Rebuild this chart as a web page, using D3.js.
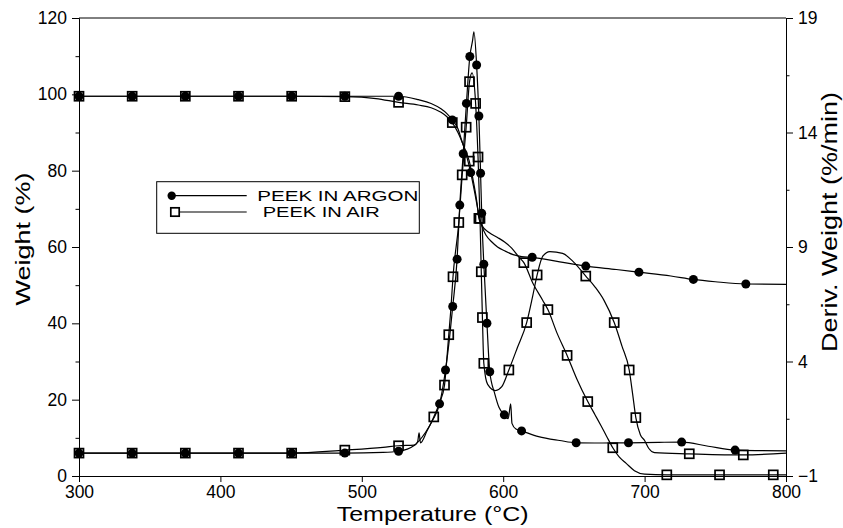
<!DOCTYPE html>
<html>
<head>
<meta charset="utf-8">
<script src="https://cdn.jsdelivr.net/npm/d3@7"></script>
<style>
  body { margin: 0; background: #fff; }
  svg text { font-family: "Liberation Sans", Arial, Helvetica, sans-serif; fill: #000; }
</style>
</head>
<body>
<svg id="chart" width="843" height="528"></svg>
<script>
// Axis ticks
const tempTicks = [300, 400, 500, 600, 700, 800];
const weightTicks = [0, 20, 40, 60, 80, 100, 120];
const weightMinor = [10, 30, 50, 70, 90, 110];
const derivTicks = [-1, 4, 9, 14, 19];
const derivMinor = [1.5, 6.5, 11.5, 16.5];
const seriesNames = ["PEEK IN ARGON", "PEEK IN AIR"];

// TGA weight (%) vs temperature (°C): symbol points and extra trace points
const argonWeightSymbols = [[300,99.5],[337.6,99.5],[375.2,99.5],[412.8,99.5],[450.4,99.5],[488,99.5],[526,99.5],[564,93.3],[577,79.5],[620.5,57.3],[658.4,55],[696,53.4],[734.5,51.5],[771.6,50.3]];
const argonWeightTrace = [[540,98.6],[549,97.6],[556,96.2],[560,95],[568,91],[571,87.5],[574,84],[580,74],[582.5,69],[585,65.4],[588,63],[592,61.3],[596,60],[601,59],[607,58],[613,57.5],[640,56.1],[680,54.1],[718.6,52.4],[750,50.9],[800,50.2]];

const airWeightSymbols = [[300,99.5],[337.6,99.5],[375.2,99.5],[412.8,99.5],[450.4,99.5],[488,99.4],[526,97.9],[564,92.6],[576,82.5],[582.8,67.5],[614.6,55.9],[631.6,43.6],[645.2,31.6],[659.8,19.5],[677.5,7.4],[715.7,0.3],[753,0.3],[791,0.3]];
const airWeightTrace = [[510,98.9],[540,97.2],[549,96.5],[556,95.3],[560,94.2],[568,90],[572,86.5],[579,77],[581.5,71.5],[585,65.6],[590,63.8],[596,62.5],[601,61.3],[606,59.7],[611,57.4],[621,50.5],[628,46],[638,37.5],[652,25.5],[665,16],[669,13.3],[673,10.5],[682,5],[687,3.3],[692.8,1.4],[700,0.5],[800,0.3]];

// DTG derivative weight (%/min) vs temperature (°C)
const argonDerivSymbols = [[300,0],[337.6,0],[375.2,0],[412.8,0],[450.4,0],[488,0],[526,0.08],[555,2.15],[559.2,3.63],[564.3,6.4],[567.4,8.47],[569.3,10.83],[571.7,13.07],[574,15.27],[576.4,17.32],[581.2,16.95],[582.8,14.72],[584,12.22],[584.8,10.47],[586.3,8.25],[588.5,5.67],[590.5,3.55],[600.8,1.67],[613,0.97],[651.6,0.45],[688.6,0.45],[726.2,0.48],[764,0.13]];
const argonDerivTrace = [[515,0.03],[537,0.33],[545,0.9],[550,1.42],[562,5.0],[578.3,18.0],[579.3,18.4],[594,2.6],[597,2.0],[603.5,1.5],[605.3,2.15],[606.2,1.3],[609,1.05],[625,0.72],[640,0.55],[670,0.44],[710,0.47],[745,0.3],[800,0.1]];

const airDerivSymbols = [[300,0],[337.6,0],[375.2,0],[412.8,0],[450.4,0],[488,0.13],[526,0.32],[550.9,1.58],[558.5,2.97],[561.5,5.17],[564.5,7.7],[568.6,10.07],[571,12.15],[573.8,14.23],[576.2,16.22],[580.5,15.27],[582.2,12.93],[583.6,10.25],[584.5,7.92],[585.3,5.92],[586.3,3.92],[604,3.63],[616.6,5.7],[624,7.78],[658.4,7.73],[678.5,5.7],[689.1,3.63],[693.8,1.55],[731.6,-0.03],[769.8,-0.08]];
const airDerivTrace = [[515,0.25],[537,0.35],[539.5,0.5],[540.5,0.88],[541.5,0.45],[546,0.95],[555,2.2],[560,4.0],[563,6.3],[578,16.6],[589,3.0],[594.6,2.73],[599,2.9],[610,4.6],[621,6.9],[628,8.6],[633,8.8],[642,8.72],[650,8.33],[665,7.25],[671.3,6.67],[684,4.67],[691.5,2.6],[697,0.8],[700,0.55],[703,0.2],[707,0.02],[800,0.0]];

const svg = d3.select("#chart");

const x = d3.scaleLinear().domain([300, 800]).range([79, 786]);
const yW = d3.scaleLinear().domain([0, 120]).range([476, 18]);
const yD = d3.scaleLinear().domain([-1, 19]).range([476, 18]);

const FONT = '"Liberation Sans", Arial, Helvetica, sans-serif';

function styleAxis(g, size) {
  g.attr("font-family", FONT).attr("font-size", size);
  g.selectAll("path.domain").attr("stroke", "#000").attr("stroke-width", 1);
  g.selectAll(".tick line").attr("stroke", "#000").attr("stroke-width", 1);
  g.selectAll(".tick text").attr("fill", "#000");
}

// Top frame line
svg.append("line")
  .attr("x1", x(300)).attr("x2", x(800))
  .attr("y1", yW(120)).attr("y2", yW(120))
  .attr("stroke", "#000").attr("stroke-width", 1);

// Bottom axis
svg.append("g").attr("transform", `translate(0,${yW(0)})`)
  .call(d3.axisBottom(x).tickValues(tempTicks).tickSize(6).tickPadding(4).tickSizeOuter(0))
  .call(g => styleAxis(g, 17.5));

// Left axis (weight)
svg.append("g").attr("transform", `translate(${x(300)},0)`)
  .call(d3.axisLeft(yW).tickValues(weightMinor).tickSize(3.5).tickFormat("").tickSizeOuter(0))
  .call(g => styleAxis(g, 17.5));
svg.append("g").attr("transform", `translate(${x(300)},0)`)
  .call(d3.axisLeft(yW).tickValues(weightTicks).tickSize(7).tickPadding(5).tickSizeOuter(0))
  .call(g => styleAxis(g, 17.5));

// Right axis (derivative)
svg.append("g").attr("transform", `translate(${x(800)},0)`)
  .call(d3.axisRight(yD).tickValues(derivMinor).tickSize(3.5).tickFormat("").tickSizeOuter(0))
  .call(g => styleAxis(g, 17.5));
svg.append("g").attr("transform", `translate(${x(800)},0)`)
  .call(d3.axisRight(yD).tickValues(derivTicks).tickSize(7).tickPadding(5).tickSizeOuter(0))
  .call(g => styleAxis(g, 17.5));

// Axis titles
svg.append("text")
  .attr("x", 336.7).attr("y", 521)
  .attr("font-size", 21)
  .attr("textLength", 192).attr("lengthAdjust", "spacingAndGlyphs")
  .text("Temperature (°C)");

svg.append("text")
  .attr("transform", "translate(30,239) rotate(-90)")
  .attr("text-anchor", "middle")
  .attr("font-size", 21)
  .attr("textLength", 133).attr("lengthAdjust", "spacingAndGlyphs")
  .text("Weight (%)");

svg.append("text")
  .attr("transform", "translate(837,222) rotate(-90)")
  .attr("text-anchor", "middle")
  .attr("font-size", 22)
  .attr("textLength", 260).attr("lengthAdjust", "spacingAndGlyphs")
  .text("Deriv. Weight (%/min)");

// Curves: each trace runs through its symbol points plus the extra trace points
const lineW = d3.line().x(d => x(d[0])).y(d => yW(d[1])).curve(d3.curveMonotoneX);
const lineD = d3.line().x(d => x(d[0])).y(d => yD(d[1])).curve(d3.curveMonotoneX);

const curves = [
  { symbols: airWeightSymbols, trace: airWeightTrace, gen: lineW, y: yW, marker: "square" },
  { symbols: airDerivSymbols, trace: airDerivTrace, gen: lineD, y: yD, marker: "square" },
  { symbols: argonWeightSymbols, trace: argonWeightTrace, gen: lineW, y: yW, marker: "circle" },
  { symbols: argonDerivSymbols, trace: argonDerivTrace, gen: lineD, y: yD, marker: "circle" }
];

const gLines = svg.append("g");
const gCircles = svg.append("g");
const gSquares = svg.append("g");
const SQ = 9;   // open square side

curves.forEach(c => {
  const pts = d3.sort(c.symbols.concat(c.trace), d => d[0]);
  gLines.append("path")
    .attr("d", c.gen(pts))
    .attr("fill", "none")
    .attr("stroke", "#000")
    .attr("stroke-width", 1.2);
  if (c.marker === "circle") {
    gCircles.selectAll(null).data(c.symbols).enter().append("circle")
      .attr("cx", d => x(d[0])).attr("cy", d => c.y(d[1])).attr("r", 4.5)
      .attr("fill", "#000");
  } else {
    gSquares.selectAll(null).data(c.symbols).enter().append("rect")
      .attr("x", d => x(d[0]) - SQ / 2).attr("y", d => c.y(d[1]) - SQ / 2)
      .attr("width", SQ).attr("height", SQ)
      .attr("fill", "none").attr("stroke", "#000").attr("stroke-width", 1.7);
  }
});

// Legend
const lg = svg.append("g");
lg.append("rect")
  .attr("x", 156.7).attr("y", 181.7).attr("width", 262.6).attr("height", 51.6)
  .attr("fill", "#fff").attr("stroke", "#000").attr("stroke-width", 1);

const legendRows = [
  { name: seriesNames[0], marker: "circle", y: 195.7, tx: 257.3, len: 161 },
  { name: seriesNames[1], marker: "square", y: 212, tx: 262.7, len: 117 }
];
legendRows.forEach(r => {
  lg.append("line")
    .attr("x1", 172).attr("x2", 246.7).attr("y1", r.y).attr("y2", r.y)
    .attr("stroke", "#000").attr("stroke-width", 1.2);
  if (r.marker === "circle") {
    lg.append("circle").attr("cx", 171.7).attr("cy", r.y).attr("r", 4.2).attr("fill", "#000");
  } else {
    lg.append("rect").attr("x", 175 - 4.2).attr("y", r.y - 4.2).attr("width", 8.4).attr("height", 8.4)
      .attr("fill", "#fff").attr("stroke", "#000").attr("stroke-width", 1.7);
  }
  lg.append("text")
    .attr("x", r.tx).attr("y", r.y + 5)
    .attr("font-size", 15)
    .attr("textLength", r.len).attr("lengthAdjust", "spacingAndGlyphs")
    .text(r.name);
});
</script>
</body>
</html>
